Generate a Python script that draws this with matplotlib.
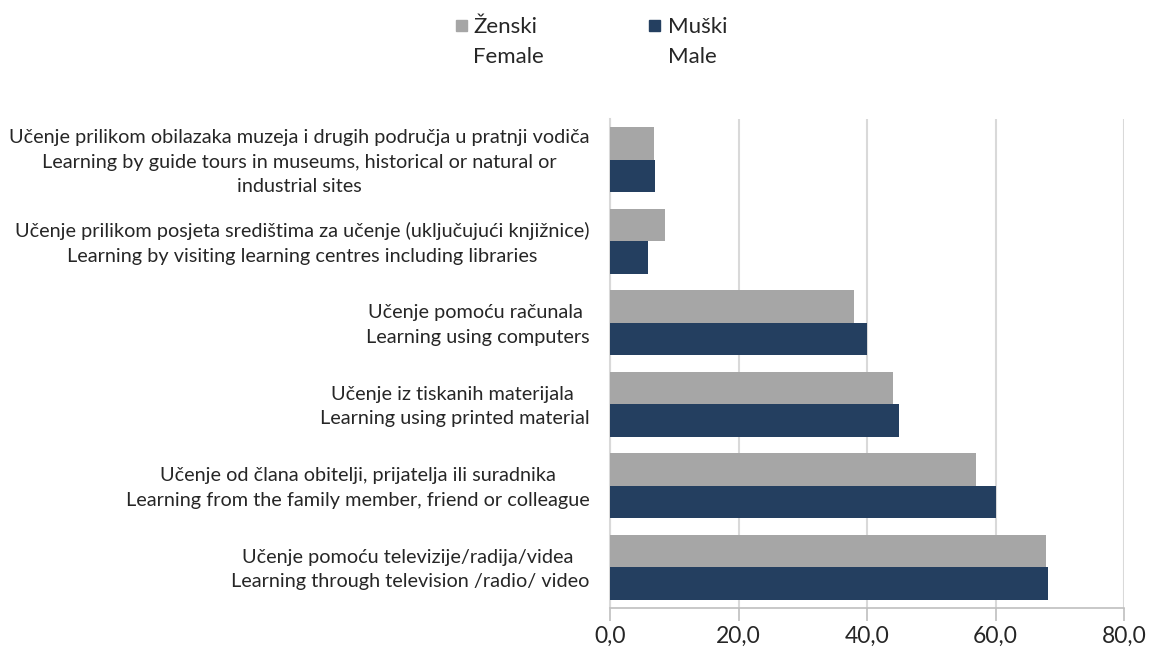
import matplotlib
matplotlib.use("Agg")
import matplotlib.pyplot as plt
import matplotlib.transforms as mtransforms
import numpy as np
from matplotlib.patches import Rectangle

categories = [
    "Učenje prilikom obilazaka muzeja i drugih područja u pratnji vodiča\nLearning by guide tours in museums, historical or natural or\nindustrial sites",
    "Učenje prilikom posjeta središtima za učenje (uključujući knjižnice)\nLearning by visiting learning centres including libraries",
    "Učenje pomoću računala \nLearning using computers",
    "Učenje iz tiskanih materijala \nLearning using printed material",
    "Učenje od člana obitelji, prijatelja ili suradnika\nLearning from the family member, friend or colleague",
    "Učenje pomoću televizije/radija/videa \nLearning through television /radio/ video",
]
female = [6.9, 8.5, 38.0, 44.0, 56.9, 67.9]
male = [7.0, 5.9, 40.0, 45.0, 60.1, 68.1]
xticks = [0, 20, 40, 60, 80]
xticklabels = ["0,0", "20,0", "40,0", "60,0", "80,0"]
legend_labels = [("Ženski", "Female"), ("Muški", "Male")]

FEM_C = "#A6A6A6"
MALE_C = "#243F60"
GRID_C = "#D9D9D9"
FONT = ["Lato", "DejaVu Sans"]
plt.rcParams["font.family"] = FONT

fig = plt.figure(figsize=(11.5, 6.54), dpi=100)
ax = fig.add_axes([610 / 1150, 46 / 654, 514 / 1150, 489 / 654])

y = np.arange(len(categories))
h = 0.398
ax.barh(y - h / 2, female, height=h, color=FEM_C, zorder=3)
ax.barh(y + h / 2, male, height=h, color=MALE_C, zorder=3)

ax.set_ylim(len(categories) - 0.5, -0.5)
ax.set_xlim(0, 80)
ax.set_xticks(xticks)
ax.set_xticklabels(xticklabels, fontsize=16.5, color="#262626")
ax.set_yticks(y)
ax.set_yticklabels(categories, fontsize=14.3, color="#262626",
                   multialignment="center", linespacing=1.55)
ax.tick_params(axis="y", length=0, pad=14.5)
ax.tick_params(axis="x", length=9, direction="out", color="#BFBFBF", width=1.2, pad=4)

shift = mtransforms.ScaledTranslation(0, 3 / 100, fig.dpi_scale_trans)
for lbl in ax.get_yticklabels():
    lbl.set_transform(lbl.get_transform() + shift)

ax.grid(axis="x", color=GRID_C, linewidth=1.5, zorder=0)
for s in ["top", "right"]:
    ax.spines[s].set_visible(False)
ax.spines["left"].set_color(GRID_C)
ax.spines["left"].set_linewidth(1.5)
ax.spines["bottom"].set_color("#BFBFBF")
ax.spines["bottom"].set_linewidth(1.2)

# legend (manual)
W, H = 1150, 654
for (sx, tx), (l1, l2), col in zip([(456, 473), (649, 668)], legend_labels, [FEM_C, MALE_C]):
    fig.patches.append(Rectangle((sx / W, 1 - 31 / H), 11 / W, 11 / H,
                                 transform=fig.transFigure, color=col))
    fig.text(tx / W, 1 - 33 / H, l1, fontsize=16, color="#262626",
             va="baseline", ha="left")
    fig.text(tx / W, 1 - 63 / H, l2, fontsize=16, color="#262626",
             va="baseline", ha="left")

fig.savefig("out.png", dpi=100)
